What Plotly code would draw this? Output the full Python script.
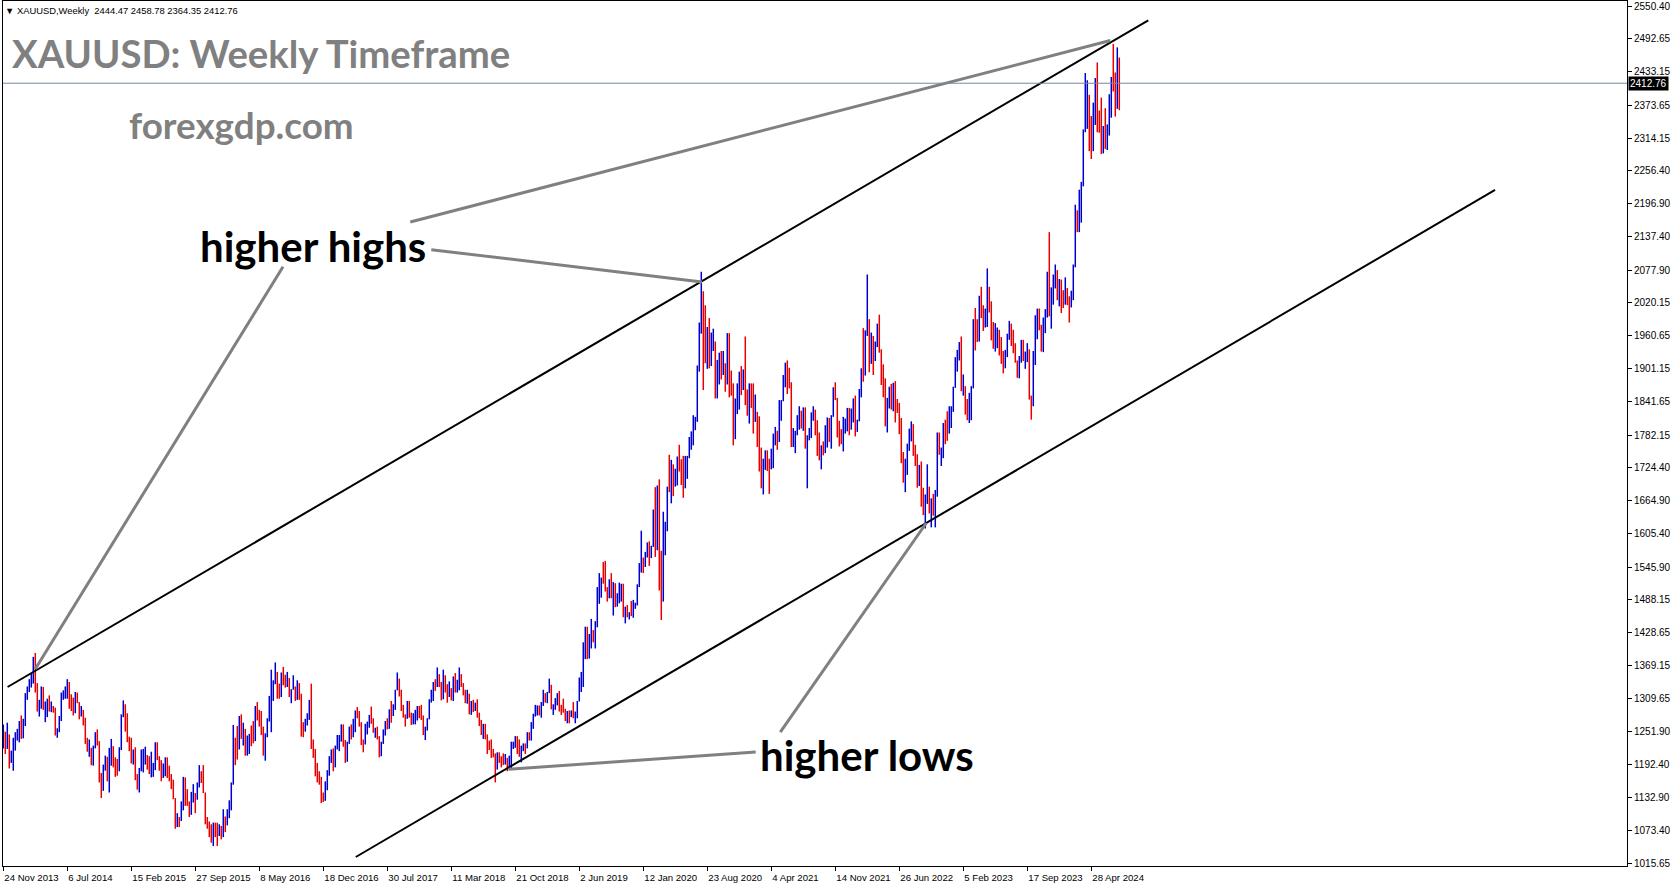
import pandas as pd
import plotly.graph_objects as go

# ---------------- data (weekly XAUUSD bars, week starting Sunday) ----------------
START_DATE = "2013-11-24"
FIRST_OPEN = 1244

HIGH = [
    # 2013
    1264, 1251, 1267, 1246, 1217, 1240,
    # 2014
    1250, 1256, 1270, 1280, 1274, 1320, 1332, 1345, 1355, 1385, 1392, 1338, 1308, 1332, 1331, 1305, 1310,
    1316, 1305, 1297, 1294, 1257, 1279, 1321, 1325, 1332, 1345, 1340, 1318, 1312, 1322, 1321, 1304, 1297,
    1290, 1276, 1240, 1237, 1222, 1226, 1250, 1255, 1234, 1177, 1192, 1208, 1206, 1222, 1238, 1225, 1205, 1202,
    # 2015
    1223, 1282, 1307, 1300, 1284, 1242, 1240, 1219, 1223, 1175, 1186, 1219, 1220, 1224, 1209, 1207, 1215,
    1195, 1232, 1232, 1207, 1200, 1194, 1205, 1205, 1190, 1175, 1165, 1132, 1105, 1098, 1126, 1170, 1169,
    1148, 1126, 1143, 1157, 1141, 1160, 1191, 1180, 1191, 1142, 1098, 1090, 1085, 1088, 1088, 1088, 1085, 1082,
    # 2016
    1112, 1099, 1112, 1128, 1160, 1263, 1240, 1261, 1279, 1282, 1267, 1256, 1244, 1247, 1262, 1270, 1297,
    1304, 1290, 1288, 1260, 1248, 1275, 1315, 1362, 1343, 1375, 1358, 1337, 1357, 1367, 1353, 1358, 1347,
    1327, 1352, 1332, 1343, 1338, 1319, 1268, 1274, 1284, 1308, 1337, 1237, 1220, 1195, 1180, 1170, 1142, 1162,
    # 2017
    1182, 1207, 1219, 1221, 1226, 1245, 1245, 1264, 1264, 1236, 1233, 1260, 1264, 1274, 1289, 1295, 1288,
    1268, 1237, 1265, 1269, 1281, 1296, 1275, 1258, 1260, 1243, 1233, 1255, 1270, 1275, 1291, 1306, 1300,
    1326, 1357, 1346, 1326, 1299, 1282, 1306, 1306, 1285, 1284, 1290, 1297, 1297, 1299, 1280, 1260, 1275, 1309, 1326,
    # 2018
    1340, 1345, 1366, 1354, 1340, 1362, 1352, 1336, 1341, 1329, 1350, 1356, 1344, 1366, 1354, 1338, 1326,
    1326, 1319, 1306, 1308, 1303, 1309, 1285, 1272, 1265, 1265, 1246, 1235, 1237, 1220, 1212, 1214, 1214,
    1207, 1212, 1211, 1204, 1208, 1233, 1233, 1243, 1243, 1237, 1226, 1230, 1230, 1250, 1250, 1268, 1283, 1299,
    # 2019
    1298, 1298, 1304, 1326, 1320, 1322, 1346, 1335, 1300, 1311, 1320, 1324, 1299, 1310, 1292, 1288, 1289,
    1289, 1304, 1287, 1306, 1348, 1358, 1411, 1439, 1439, 1426, 1453, 1433, 1449, 1510, 1535, 1527, 1555,
    1557, 1510, 1524, 1535, 1519, 1517, 1499, 1518, 1516, 1516, 1475, 1478, 1465, 1485, 1487, 1482, 1515, 1553,
    # 2020
    1611, 1563, 1573, 1590, 1592, 1584, 1649, 1689, 1692, 1703, 1575, 1645, 1627, 1690, 1747, 1738, 1730,
    1722, 1744, 1765, 1739, 1745, 1745, 1745, 1779, 1789, 1818, 1815, 1907, 1984, 2075, 2040, 2015, 1976,
    1992, 1966, 1973, 1950, 1917, 1930, 1933, 1933, 1911, 1965, 1965, 1898, 1875, 1848, 1875, 1896, 1906, 1900,
    # 2021
    1959, 1864, 1875, 1875, 1875, 1855, 1824, 1816, 1760, 1740, 1755, 1755, 1740, 1758, 1785, 1797, 1790,
    1845, 1845, 1890, 1912, 1916, 1903, 1877, 1795, 1790, 1818, 1834, 1826, 1832, 1832, 1782, 1795, 1823,
    1834, 1828, 1809, 1787, 1764, 1771, 1800, 1814, 1813, 1818, 1868, 1877, 1849, 1808, 1793, 1815, 1812, 1831,
    # 2022
    1831, 1830, 1848, 1853, 1810, 1865, 1902, 1974, 1970, 2070, 1990, 1966, 1960, 1950, 1982, 1998, 1936,
    1909, 1884, 1849, 1869, 1874, 1876, 1879, 1847, 1840, 1813, 1752, 1740, 1767, 1794, 1807, 1802, 1765,
    1748, 1729, 1735, 1688, 1676, 1730, 1690, 1669, 1677, 1684, 1787, 1787, 1760, 1804, 1810, 1825, 1834, 1834,
    # 2023
    1869, 1922, 1935, 1949, 1959, 1891, 1870, 1847, 1858, 1870, 1990, 2010, 1990, 2032, 2048, 2015, 2009,
    2081, 2048, 2022, 1985, 1983, 1975, 1971, 1958, 1933, 1935, 1964, 1987, 1982, 1971, 1947, 1916, 1924,
    1953, 1953, 1932, 1947, 1936, 1853, 1933, 1997, 2009, 2009, 1980, 1993, 2008, 2075, 2146, 2047, 2070, 2088, 2078,
    # 2024
    2062, 2061, 2042, 2065, 2046, 2031, 2041, 2088, 2195, 2185, 2222, 2236, 2330, 2431, 2418, 2392, 2354,
    2378, 2422, 2450, 2364, 2387, 2336, 2368, 2339, 2393, 2424, 2483, 2432, 2477, 2458.78,
]

LOW = [
    # 2013
    1221, 1211, 1220, 1185, 1195, 1181,
    # 2014
    1217, 1235, 1232, 1238, 1239, 1261, 1308, 1322, 1330, 1337, 1321, 1287, 1278, 1292, 1290, 1268, 1277,
    1287, 1286, 1285, 1244, 1240, 1250, 1270, 1308, 1310, 1310, 1292, 1288, 1280, 1284, 1302, 1273, 1278,
    1262, 1229, 1215, 1206, 1191, 1190, 1221, 1226, 1160, 1132, 1145, 1181, 1162, 1142, 1190, 1187, 1170, 1172,
    # 2015
    1180, 1218, 1277, 1251, 1232, 1216, 1194, 1192, 1164, 1147, 1142, 1180, 1178, 1192, 1183, 1175, 1169,
    1170, 1182, 1200, 1181, 1162, 1168, 1171, 1168, 1162, 1148, 1130, 1077, 1080, 1080, 1091, 1110, 1118,
    1118, 1098, 1102, 1124, 1105, 1129, 1151, 1159, 1141, 1085, 1077, 1062, 1052, 1046, 1062, 1046, 1064, 1058,
    # 2016
    1062, 1071, 1083, 1096, 1110, 1156, 1191, 1201, 1219, 1238, 1226, 1208, 1208, 1211, 1225, 1230, 1234,
    1271, 1260, 1245, 1208, 1199, 1241, 1269, 1250, 1306, 1336, 1310, 1310, 1313, 1334, 1330, 1331, 1313,
    1302, 1326, 1306, 1308, 1308, 1242, 1241, 1251, 1262, 1272, 1220, 1204, 1171, 1160, 1156, 1123, 1125, 1127,
    # 2017
    1146, 1172, 1195, 1180, 1187, 1219, 1216, 1233, 1224, 1195, 1197, 1229, 1237, 1241, 1250, 1275, 1260,
    1227, 1214, 1228, 1246, 1258, 1265, 1249, 1240, 1237, 1205, 1207, 1229, 1244, 1255, 1256, 1267, 1279,
    1290, 1325, 1314, 1288, 1276, 1260, 1274, 1276, 1263, 1264, 1264, 1271, 1275, 1272, 1245, 1236, 1253, 1273, 1303,
    # 2018
    1306, 1324, 1331, 1331, 1307, 1309, 1321, 1303, 1313, 1307, 1306, 1321, 1321, 1325, 1331, 1316, 1302,
    1301, 1282, 1281, 1286, 1288, 1276, 1261, 1245, 1238, 1237, 1211, 1218, 1204, 1205, 1160, 1183, 1195,
    1187, 1191, 1192, 1180, 1183, 1183, 1220, 1222, 1211, 1206, 1196, 1216, 1211, 1221, 1235, 1235, 1256, 1278,
    # 2019
    1280, 1280, 1276, 1297, 1303, 1302, 1320, 1291, 1281, 1290, 1298, 1287, 1281, 1285, 1270, 1266, 1266,
    1277, 1275, 1266, 1275, 1305, 1322, 1331, 1381, 1381, 1382, 1400, 1411, 1400, 1438, 1480, 1491, 1516,
    1502, 1484, 1490, 1490, 1459, 1474, 1475, 1481, 1484, 1456, 1445, 1456, 1452, 1458, 1455, 1471, 1477, 1510,
    # 2020
    1536, 1535, 1546, 1563, 1548, 1562, 1582, 1564, 1576, 1504, 1451, 1484, 1567, 1610, 1680, 1660, 1673,
    1690, 1692, 1717, 1693, 1670, 1687, 1704, 1741, 1756, 1764, 1791, 1806, 1896, 1964, 1863, 1911, 1901,
    1902, 1906, 1933, 1848, 1848, 1873, 1882, 1890, 1860, 1873, 1850, 1853, 1764, 1775, 1820, 1828, 1854, 1863,
    # 2021
    1836, 1817, 1803, 1831, 1785, 1806, 1761, 1717, 1687, 1676, 1720, 1718, 1677, 1721, 1723, 1764, 1756,
    1770, 1808, 1843, 1868, 1856, 1866, 1761, 1761, 1750, 1782, 1792, 1794, 1790, 1758, 1687, 1773, 1777,
    1808, 1782, 1745, 1737, 1721, 1746, 1750, 1760, 1770, 1758, 1815, 1845, 1778, 1762, 1766, 1753, 1785, 1789,
    # 2022
    1782, 1792, 1805, 1780, 1788, 1807, 1850, 1878, 1889, 1960, 1895, 1910, 1890, 1915, 1940, 1930, 1872,
    1850, 1798, 1787, 1830, 1828, 1825, 1805, 1822, 1784, 1732, 1697, 1680, 1711, 1754, 1771, 1745, 1727,
    1688, 1691, 1654, 1639, 1615, 1659, 1642, 1617, 1638, 1617, 1672, 1747, 1727, 1741, 1766, 1772, 1785, 1795,
    # 2023
    1824, 1867, 1896, 1916, 1861, 1853, 1819, 1809, 1804, 1809, 1866, 1934, 1949, 1950, 1992, 1969, 1975,
    1976, 2002, 1952, 1937, 1932, 1938, 1925, 1910, 1893, 1902, 1922, 1953, 1942, 1929, 1912, 1885, 1884,
    1912, 1915, 1901, 1913, 1846, 1810, 1834, 1908, 1954, 1970, 1932, 1931, 1965, 1993, 1995, 1973, 2016, 2045, 2024,
    # 2024
    2013, 2001, 2010, 2016, 2015, 1984, 2011, 2024, 2083, 2146, 2146, 2163, 2228, 2325, 2331, 2291, 2277,
    2291, 2338, 2325, 2324, 2286, 2287, 2295, 2293, 2319, 2351, 2398, 2353, 2367, 2364.35,
]

CLOSE = [
    # 2013
    1250, 1229, 1235, 1203, 1213, 1238,
    # 2014
    1248, 1254, 1264, 1240, 1263, 1318, 1323, 1326, 1340, 1379, 1336, 1294, 1304, 1318, 1294, 1301, 1302,
    1290, 1293, 1292, 1246, 1252, 1274, 1316, 1320, 1320, 1337, 1310, 1303, 1294, 1310, 1305, 1280, 1287,
    1268, 1231, 1216, 1218, 1192, 1222, 1238, 1231, 1171, 1169, 1190, 1201, 1167, 1192, 1222, 1195, 1195, 1187,
    # 2015
    1216, 1277, 1293, 1278, 1234, 1227, 1203, 1213, 1167, 1152, 1183, 1199, 1201, 1207, 1204, 1178, 1179,
    1189, 1225, 1205, 1190, 1169, 1180, 1201, 1173, 1168, 1158, 1132, 1085, 1095, 1094, 1113, 1159, 1134,
    1121, 1108, 1137, 1146, 1137, 1156, 1177, 1163, 1142, 1088, 1081, 1076, 1057, 1086, 1075, 1065, 1076, 1061,
    # 2016
    1098, 1090, 1097, 1117, 1158, 1239, 1228, 1222, 1271, 1249, 1255, 1217, 1222, 1239, 1234, 1233, 1293,
    1290, 1273, 1253, 1212, 1243, 1275, 1298, 1321, 1340, 1366, 1327, 1323, 1351, 1335, 1335, 1341, 1320,
    1326, 1328, 1310, 1338, 1316, 1256, 1251, 1266, 1276, 1304, 1225, 1208, 1183, 1177, 1160, 1134, 1132, 1152,
    # 2017
    1173, 1197, 1205, 1191, 1220, 1234, 1239, 1257, 1234, 1203, 1229, 1249, 1248, 1254, 1286, 1284, 1268,
    1228, 1227, 1254, 1267, 1280, 1266, 1254, 1256, 1241, 1212, 1228, 1254, 1269, 1258, 1288, 1284, 1291,
    1325, 1346, 1320, 1297, 1280, 1274, 1304, 1280, 1266, 1269, 1274, 1294, 1288, 1280, 1248, 1255, 1274, 1303, 1322,
    # 2018
    1338, 1332, 1349, 1333, 1315, 1347, 1330, 1322, 1323, 1313, 1347, 1325, 1332, 1345, 1336, 1323, 1315,
    1319, 1291, 1301, 1294, 1298, 1278, 1269, 1251, 1255, 1241, 1231, 1223, 1214, 1212, 1184, 1206, 1201,
    1198, 1194, 1198, 1192, 1203, 1222, 1227, 1233, 1232, 1209, 1222, 1223, 1222, 1248, 1238, 1256, 1280, 1285,
    # 2019
    1290, 1282, 1303, 1318, 1315, 1322, 1328, 1294, 1298, 1302, 1313, 1292, 1291, 1290, 1275, 1286, 1280,
    1286, 1277, 1284, 1305, 1341, 1342, 1399, 1409, 1400, 1415, 1426, 1419, 1440, 1497, 1513, 1527, 1520,
    1507, 1488, 1516, 1497, 1505, 1488, 1490, 1504, 1514, 1459, 1468, 1462, 1464, 1460, 1476, 1479, 1510, 1552,
    # 2020
    1560, 1557, 1571, 1589, 1570, 1584, 1643, 1585, 1674, 1530, 1499, 1617, 1620, 1683, 1681, 1728, 1700,
    1702, 1743, 1735, 1729, 1684, 1730, 1743, 1771, 1775, 1798, 1810, 1902, 1975, 2035, 1944, 1940, 1964,
    1933, 1940, 1950, 1861, 1900, 1930, 1899, 1902, 1879, 1951, 1889, 1871, 1788, 1839, 1840, 1881, 1877, 1895,
    # 2021
    1849, 1827, 1855, 1847, 1814, 1824, 1784, 1734, 1700, 1727, 1745, 1733, 1728, 1744, 1776, 1777, 1769,
    1831, 1844, 1881, 1903, 1891, 1877, 1764, 1781, 1787, 1808, 1812, 1802, 1814, 1763, 1780, 1781, 1817,
    1827, 1788, 1754, 1750, 1761, 1757, 1768, 1793, 1783, 1818, 1865, 1846, 1793, 1783, 1782, 1798, 1808, 1829,
    # 2022
    1797, 1817, 1835, 1791, 1808, 1859, 1898, 1889, 1966, 1988, 1921, 1958, 1925, 1946, 1974, 1931, 1896,
    1883, 1811, 1846, 1853, 1851, 1871, 1840, 1826, 1811, 1742, 1708, 1727, 1766, 1775, 1802, 1747, 1737,
    1712, 1717, 1675, 1644, 1661, 1695, 1644, 1657, 1644, 1681, 1771, 1751, 1755, 1798, 1797, 1793, 1798, 1824,
    # 2023
    1865, 1920, 1926, 1928, 1865, 1866, 1842, 1811, 1856, 1868, 1989, 1978, 1969, 2008, 2004, 1983, 1990,
    2016, 2011, 1978, 1946, 1948, 1961, 1958, 1921, 1919, 1925, 1955, 1962, 1959, 1943, 1914, 1889, 1914,
    1940, 1919, 1924, 1925, 1848, 1833, 1933, 1981, 2006, 1993, 1940, 1980, 2001, 2072, 2004, 2019, 2053, 2062, 2045,
    # 2024
    2049, 2029, 2018, 2039, 2024, 2013, 2035, 2083, 2179, 2155, 2165, 2230, 2329, 2344, 2392, 2337, 2301,
    2360, 2415, 2334, 2327, 2293, 2333, 2322, 2326, 2392, 2411, 2401, 2387, 2444.47, 2412.76,
]

LAST_PRICE = 2412.76
HEADER = "\u25BC XAUUSD,Weekly  2444.47 2458.78 2364.35 2412.76"
TITLE = "XAUUSD: Weekly Timeframe"
SITE = "forexgdp.com"
LABEL_HIGHS = "higher highs"
LABEL_LOWS = "higher lows"

X_TICK_DATES = ["2013-11-24", "2014-07-06", "2015-02-15", "2015-09-27", "2016-05-08", "2016-12-18",
                "2017-07-30", "2018-03-11", "2018-10-21", "2019-06-02", "2020-01-12", "2020-08-23",
                "2021-04-04", "2021-11-14", "2022-06-26", "2023-02-05", "2023-09-17", "2024-04-28"]
X_TICK_TEXT = ["24 Nov 2013", "6 Jul 2014", "15 Feb 2015", "27 Sep 2015", "8 May 2016", "18 Dec 2016",
               "30 Jul 2017", "11 Mar 2018", "21 Oct 2018", "2 Jun 2019", "12 Jan 2020", "23 Aug 2020",
               "4 Apr 2021", "14 Nov 2021", "26 Jun 2022", "5 Feb 2023", "17 Sep 2023", "28 Apr 2024"]
Y_TICKS = [2550.40, 2492.65, 2433.15, 2373.65, 2314.15, 2256.40, 2196.90, 2137.40, 2077.90, 2020.15,
           1960.65, 1901.15, 1841.65, 1782.15, 1724.40, 1664.90, 1605.40, 1545.90, 1488.15, 1428.65,
           1369.15, 1309.65, 1251.90, 1192.40, 1132.90, 1073.40, 1015.65]

# channel lines (date, price)
UPPER_CHANNEL = [("2013-12-09 01:00", 1331.0), ("2024-11-13 12:00", 2525.5)]
LOWER_CHANNEL = [("2017-04-10 18:00", 1026.4), ("2028-03-11 07:00", 2221.6)]
# pointer lines from the labels to the swing points (date, price)
POINTER_HIGHS = [
    [("2017-10-18 12:00", 2164.1), ("2024-07-03 12:00", 2489.3)],
    [("2017-12-31 00:00", 2114.5), ("2020-08-04 13:00", 2056.6)],
    [("2016-07-30 00:00", 2083.8), ("2014-03-16 00:00", 1363.2)],
]
POINTER_LOWS = [
    [("2021-05-05 12:00", 1250.3), ("2022-09-28 12:00", 1624.8)],
    [("2021-02-08 10:00", 1214.5), ("2018-09-27 13:00", 1183.5)],
]

# ---------------- layout helpers ----------------
W, H = 1673, 888
PL, PR, PT, PB = 3, 1627, 1, 866


def px(x):
    return (x - PL) / (PR - PL)


def py(y):
    return 1 - (y - PT) / (PB - PT)


dates = pd.date_range(START_DATE, periods=len(CLOSE), freq="7D")
opens = [FIRST_OPEN] + CLOSE[:-1]

BLUE = "#0000CC"
RED = "#E80000"

fig = go.Figure()
fig.add_trace(go.Ohlc(
    x=dates, open=opens, high=HIGH, low=LOW, close=CLOSE,
    increasing=dict(line=dict(color=BLUE, width=1.5)),
    decreasing=dict(line=dict(color=RED, width=1.5)),
    tickwidth=0, hoverinfo="skip", showlegend=False,
))

shapes = []
for (x0, y0), (x1, y1) in [UPPER_CHANNEL, LOWER_CHANNEL]:
    shapes.append(dict(type="line", xref="x", yref="y", x0=x0, y0=y0, x1=x1, y1=y1,
                       line=dict(color="black", width=2)))
for seg in POINTER_HIGHS + POINTER_LOWS:
    (x0, y0), (x1, y1) = seg
    shapes.append(dict(type="line", xref="x", yref="y", x0=x0, y0=y0, x1=x1, y1=y1,
                       line=dict(color="#808080", width=3)))
shapes.append(dict(type="line", xref="paper", yref="y", x0=0, x1=1, y0=LAST_PRICE, y1=LAST_PRICE,
                   line=dict(color="#778899", width=1)))

annotations = [
    dict(xref="paper", yref="paper", x=px(3), y=py(10), xanchor="left", yanchor="middle",
         text=HEADER, showarrow=False, font=dict(family="Liberation Sans", size=9.4, color="black")),
    dict(xref="paper", yref="paper", x=px(10), y=py(53), xanchor="left", yanchor="middle",
         text="<b>" + TITLE + "</b>", showarrow=False, font=dict(family="Lato", size=38.3, color="#808080")),
    dict(xref="paper", yref="paper", x=px(127), y=py(125), xanchor="left", yanchor="middle",
         text="<b>" + SITE + "</b>", showarrow=False, font=dict(family="Lato", size=36.8, color="#808080")),
    dict(xref="paper", yref="paper", x=px(198), y=py(246), xanchor="left", yanchor="middle",
         text="<b>" + LABEL_HIGHS + "</b>", showarrow=False, font=dict(family="Lato", size=42, color="black")),
    dict(xref="paper", yref="paper", x=px(758), y=py(755), xanchor="left", yanchor="middle",
         text="<b>" + LABEL_LOWS + "</b>", showarrow=False, font=dict(family="Lato", size=42, color="black")),
    dict(xref="paper", yref="y", x=1, y=LAST_PRICE, xanchor="left", yanchor="middle", xshift=1,
         text=f"{LAST_PRICE:.2f}", showarrow=False, bgcolor="black", borderpad=1,
         font=dict(family="Liberation Sans", size=10, color="white")),
]

x_left = pd.Timestamp(START_DATE) - pd.Timedelta(days=1)
x_right = x_left + pd.Timedelta(days=7 * (PR - PL) / 2)
y_per_px = (2550.40 - 1015.65) / (863.0 - 6.4)
y_top = 2550.40 + (6.4 - PT) * y_per_px
y_bot = 1015.65 - (PB - 863.0) * y_per_px

fig.update_layout(
    width=W, height=H,
    margin=dict(l=PL, r=W - PR, t=PT, b=H - PB, pad=0, autoexpand=False),
    paper_bgcolor="white", plot_bgcolor="white",
    showlegend=False,
    shapes=shapes, annotations=annotations,
    xaxis=dict(
        type="date", range=[x_left, x_right], rangeslider=dict(visible=False),
        tickvals=X_TICK_DATES, ticktext=X_TICK_TEXT, ticklabelposition="outside right",
        tickangle=0, automargin=False, ticklabelstandoff=2,
        ticks="outside", ticklen=4, tickcolor="black", showgrid=False, zeroline=False,
        showline=True, linecolor="black", linewidth=1, mirror=True,
        tickfont=dict(family="Liberation Sans", size=9.6, color="black"),
    ),
    yaxis=dict(
        side="right", range=[y_bot, y_top], automargin=False,
        tickvals=Y_TICKS, ticktext=[f"{v:.2f}" for v in Y_TICKS],
        ticks="outside", ticklen=4, tickcolor="black", showgrid=False, zeroline=False,
        showline=True, linecolor="black", linewidth=1, mirror=True,
        tickfont=dict(family="Liberation Sans", size=10, color="black"),
    ),
)

fig.write_html("out.html", config={"displayModeBar": False},
               post_script="document.body.style.margin='0';document.body.style.overflow='hidden';")
